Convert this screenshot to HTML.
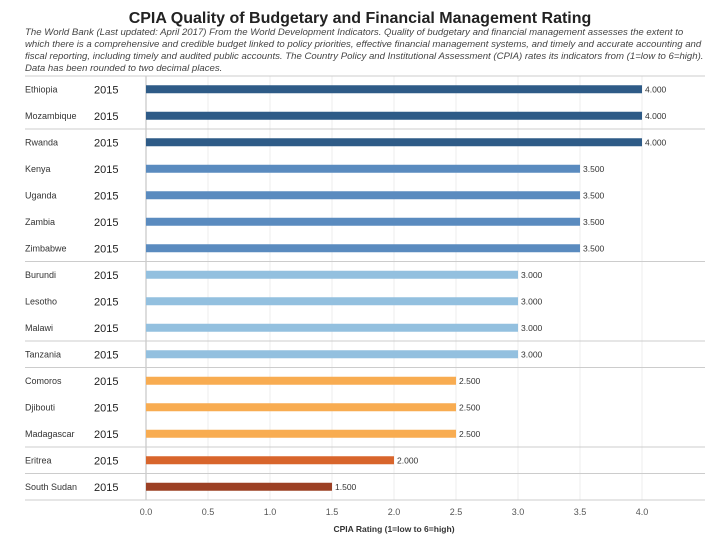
<!DOCTYPE html>
<html><head><meta charset="utf-8"><style>
body{margin:0;background:#fff;font-family:"Liberation Sans",sans-serif}
#c{position:relative;width:720px;height:540px;overflow:hidden}
.t{position:absolute;white-space:nowrap}
</style></head><body>
<div id="c">
<div class="t" style="left:0;width:720px;text-align:center;top:10px;font-size:16px;font-weight:bold;color:#222">CPIA Quality of Budgetary and Financial Management Rating</div>
<div class="t" style="left:25px;top:27px;width:685px;white-space:normal;font-size:9.6px;line-height:12px;font-style:italic;color:#444">The World Bank (Last updated: April 2017) From the World Development Indicators. Quality of budgetary and financial management assesses the extent to which there is a comprehensive and credible budget linked to policy priorities, effective financial management systems, and timely and accurate accounting and fiscal reporting, including timely and audited public accounts. The Country Policy and Institutional Assessment (CPIA) rates its indicators from (1=low to 6=high). Data has been rounded to two decimal places.</div>
<svg id="s" width="720" height="540" style="position:absolute;left:0;top:0"></svg>
</div>
<script>
const countries=["Ethiopia","Mozambique","Rwanda","Kenya","Uganda","Zambia","Zimbabwe","Burundi","Lesotho","Malawi","Tanzania","Comoros","Djibouti","Madagascar","Eritrea","South Sudan"];
const years=["2015","2015","2015","2015","2015","2015","2015","2015","2015","2015","2015","2015","2015","2015","2015","2015"];
const values=[4.0,4.0,4.0,3.5,3.5,3.5,3.5,3.0,3.0,3.0,3.0,2.5,2.5,2.5,2.0,1.5];
const ticks=[0,0.5,1,1.5,2,2.5,3,3.5,4];
const separatorsAfter=[1,6,9,10,13,14];
const NS="http://www.w3.org/2000/svg";
const s=document.getElementById('s');
const x0=146,x1=642,top0=76,rowH=26.5;
const xs=v=>x0+(x1-x0)*v/4;
const ys=i=>top0+rowH*(i+0.5);
function col(v){if(v>=4)return"#2e5b87";if(v>=3.5)return"#5a8bbf";if(v>=3)return"#93c0df";if(v>=2.5)return"#f8ac51";if(v>=2)return"#d8652c";return"#9c4024";}
function mk(t,a,txt){const e=document.createElementNS(NS,t);for(const k in a)e.setAttribute(k,a[k]);if(txt!=null)e.textContent=txt;s.appendChild(e);return e;}
const bottom=top0+rowH*countries.length;
ticks.forEach(t=>{
const g=mk('line',{x1:xs(t),x2:xs(t),y1:top0,y2:bottom,stroke:t===0?'#bbb':'#ececec','stroke-width':1});


const l=mk('text',{x:xs(t),y:bottom+15,'text-anchor':'middle','font-size':9,fill:'#555'},t.toFixed(1));


});
[top0,bottom].concat(separatorsAfter.map(i=>top0+rowH*(i+1))).forEach(y=>{
const ln=mk('line',{x1:25,x2:705,y1:y,y2:y,stroke:'#ccc','stroke-width':1});


});
countries.forEach((c,i)=>{
const y=ys(i);
const a=mk('text',{x:25,y:y+3,'font-size':9,fill:'#333'},c);


const b=mk('text',{x:94,y:y+4,'font-size':11,fill:'#222'},years[i]);


const r=mk('rect',{x:x0,y:y-4,width:xs(values[i])-x0,height:8,fill:col(values[i])});


const v=mk('text',{x:xs(values[i])+3,y:y+3,'font-size':8.5,fill:'#333'},values[i].toFixed(3));


});
const at=mk('text',{x:xs(2),y:bottom+32,'text-anchor':'middle','font-size':8.5,'font-weight':'bold',fill:'#333'},'CPIA Rating (1=low to 6=high)');


</script>
</body></html>
